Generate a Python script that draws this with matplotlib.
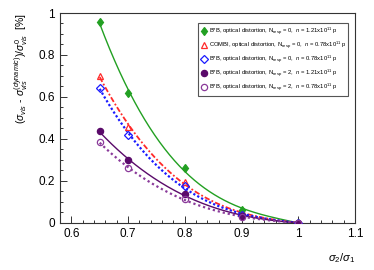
import numpy as np
import matplotlib
matplotlib.use("Agg")
import matplotlib.pyplot as plt
from matplotlib.lines import Line2D
from matplotlib.ticker import MultipleLocator

plt.rcParams['font.family'] = ['Liberation Sans', 'DejaVu Sans']
plt.rcParams['mathtext.fontset'] = 'custom'
plt.rcParams['mathtext.rm'] = 'Liberation Sans'
plt.rcParams['mathtext.it'] = 'Liberation Sans:italic'

ratio = [0.65, 0.70, 0.80, 0.90, 1.00]
bb_n0_121 = [0.956, 0.620, 0.259, 0.060, 0.0]
combi_n0_078 = [0.700, 0.457, 0.195, 0.040, 0.0]
bb_n0_078 = [0.643, 0.418, 0.174, 0.036, 0.0]
bb_n2_121 = [0.435, 0.297, 0.135, 0.031, 0.0]
bb_n2_078 = [0.383, 0.259, 0.112, 0.026, 0.0]

labels = [
    r"B*B, optical distortion, N$_{\rm resp}$ = 0,  $n$ = 1.21x10$^{11}$ p",
    r"COMBI, optical distortion, N$_{\rm resp}$ = 0,  $n$ = 0.78x10$^{11}$ p",
    r"B*B, optical distortion, N$_{\rm resp}$ = 0,  $n$ = 0.78x10$^{11}$ p",
    r"B*B, optical distortion, N$_{\rm resp}$ = 2,  $n$ = 1.21x10$^{11}$ p",
    r"B*B, optical distortion, N$_{\rm resp}$ = 2,  $n$ = 0.78x10$^{11}$ p",
]

series = [bb_n0_121, combi_n0_078, bb_n0_078, bb_n2_121, bb_n2_078]
colors = ['#22a022', '#ff2a2a', '#1a1aff', '#5a0a6a', '#8a3a9a']
markers = ['d', '^', 'D', 'o', 'o']
fills = [True, False, False, True, False]
msizes = [4.5, 5, 4.2, 4.5, 4.5]
lstyles = ['-', (0, (3, 1.2, 1, 1.2)), (0, (1, 1)), '-', (0, (1, 1.3))]
lwidths = [1.0, 1.3, 1.6, 1.0, 1.6]

fig = plt.figure(figsize=(3.74, 2.70), dpi=100)
ax = fig.add_axes([60/374, 1-222.5/270, 295/374, 209.5/270])

xs = np.linspace(0.65, 1.0, 200)
handles = []
for y, c, m, f, ms, ls, lw, lab in zip(series, colors, markers, fills, msizes, lstyles, lwidths, labels):
    coef = np.polyfit(ratio, y, 3)
    ax.plot(xs, np.polyval(coef, xs), color=c, ls=ls, lw=lw, zorder=2)
    ax.plot(ratio, y, ls='none', marker=m, ms=ms, mec=c, mfc=c if f else 'none', mew=0.9, zorder=3)
    handles.append(Line2D([], [], ls='none', marker=m, ms=ms, mec=c, mfc=c if f else 'none', mew=0.9, label=lab))

ax.set_xlim(0.58, 1.1)
ax.set_ylim(0, 1.0)
ax.xaxis.set_minor_locator(MultipleLocator(0.02))
ax.yaxis.set_minor_locator(MultipleLocator(0.05))
ax.set_xticks([0.6, 0.7, 0.8, 0.9, 1.0, 1.1])
ax.set_xticklabels(['0.6', '0.7', '0.8', '0.9', '1', '1.1'])
ax.set_yticks([0, 0.2, 0.4, 0.6, 0.8, 1.0])
ax.set_yticklabels(['0', '0.2', '0.4', '0.6', '0.8', '1'])
ax.tick_params(which='both', direction='in', top=False, right=False, labelsize=8.5, width=0.7, color='#333333')
ax.tick_params(which='major', length=5)
ax.tick_params(which='minor', length=2.5)
ax.tick_params(axis='x', pad=4)
for s in ax.spines.values():
    s.set_linewidth(0.8)
    s.set_color('#333333')

ax.set_ylabel(r"($\sigma_{vis}$ - $\sigma_{vis}^{(dynamic)}$)/$\sigma_{vis}^{0}$  [%]", fontsize=7.5, labelpad=6, loc='top')
fig.text(355/374, 1-258/270, r"$\sigma_{2}/\sigma_{1}$", ha='right', va='center', fontsize=8)

leg = fig.legend(handles=handles, loc='upper left',
                 bbox_to_anchor=(198/374, 1-23/270, 150/374, 0.0001), mode='expand',
                 fontsize=4.2, frameon=True, fancybox=False, borderaxespad=0,
                 labelspacing=0.42, handlelength=1.0, handletextpad=0.4, borderpad=0.5)
leg.get_frame().set_edgecolor('#555555')
leg.get_frame().set_linewidth(0.8)
leg.get_frame().set_alpha(1)

fig.savefig("out.png", dpi=100)
